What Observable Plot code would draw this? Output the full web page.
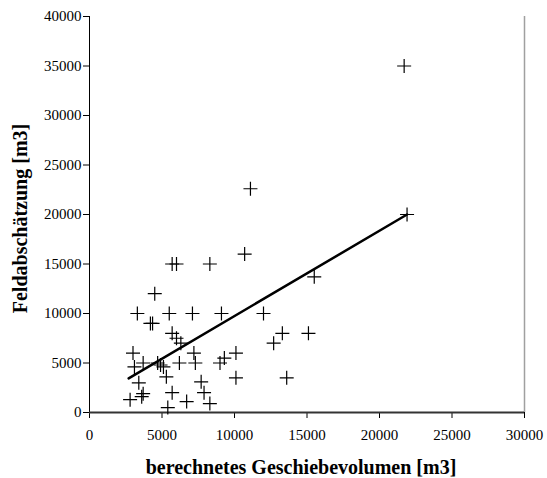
<!DOCTYPE html>
<html>
<head>
<meta charset="utf-8">
<script src="https://cdn.jsdelivr.net/npm/d3@7"></script>
<script src="https://cdn.jsdelivr.net/npm/@observablehq/plot@0.6"></script>
<style>
  body { margin: 0; background: #fff; }
  #chart svg, #chart svg text { font-family: "Liberation Serif", "Times New Roman", serif !important; }
</style>
</head>
<body>
<div id="chart"></div>
<script>
// berechnetes Geschiebevolumen [m3]
const volX = [21700, 21900, 11100, 10700, 15500, 5700, 6000, 8300, 4500, 3300, 5500, 7100, 9100, 12000,
  4200, 4350, 5700, 6000, 13300, 15100, 12700, 6300, 3000, 7200, 10100, 9300, 9000, 3700, 4700, 4900,
  6200, 7300, 3100, 5100, 5300, 10100, 13600, 3400, 7700, 5700, 7900, 3700, 3600, 2800, 6700, 8300, 5400];
// Feldabschätzung [m3]
const feldY = [35000, 20000, 22600, 16000, 13700, 15000, 15000, 15000, 12000, 10000, 10000, 10000, 10000, 10000,
  9000, 9000, 8000, 7500, 8000, 8000, 7000, 7000, 6000, 6000, 6000, 5500, 5000, 5000, 5000, 4800,
  5000, 5000, 4600, 4600, 3600, 3500, 3500, 3000, 3100, 2000, 2000, 1900, 1600, 1300, 1100, 900, 500];
// Trendlinie
const trendX = [2700, 21900];
const trendY = [3450, 20000];

const xTicks = [0, 5000, 10000, 15000, 20000, 25000, 30000];
const yTicks = [0, 5000, 10000, 15000, 20000, 25000, 30000, 35000, 40000];
const xTitle = "berechnetes Geschiebevolumen [m3]";
const yTitle = "Feldabschätzung [m3]";

const points = volX.map((x, i) => ({x, y: feldY[i]}));
const trend = trendX.map((x, i) => ({x, y: trendY[i]}));

const plusSymbol = {
  draw(context, size) {
    const r = Math.sqrt(size / Math.PI);
    context.moveTo(-r, 0); context.lineTo(r, 0);
    context.moveTo(0, -r); context.lineTo(0, r);
  }
};

const chart = Plot.plot({
  width: 547,
  height: 478,
  marginLeft: 89,
  marginRight: 23,
  marginTop: 16,
  marginBottom: 66,
  style: {fontSize: "15px", fontFamily: "'Liberation Serif', 'Times New Roman', serif", color: "#000", background: "#fff"},
  x: {domain: [0, 30000]},
  y: {domain: [0, 40000]},
  marks: [
    Plot.ruleX([30000], {stroke: "#a0a0a0", strokeWidth: 1.5}),
    Plot.axisY({ticks: yTicks, tickSize: 6, tickPadding: 2, tickFormat: d => String(d), label: null}),
    Plot.axisX({ticks: xTicks, tickSize: 6, tickPadding: 11, tickFormat: d => String(d), label: null}),
    Plot.ruleX([0], {stroke: "#000", strokeWidth: 1}),
    Plot.ruleY([0], {stroke: "#333", strokeWidth: 2}),
    Plot.dot(points, {x: "x", y: "y", symbol: plusSymbol, r: 7, stroke: "#000", strokeWidth: 1.2, fill: "none"}),
    Plot.line(trend, {x: "x", y: "y", stroke: "#000", strokeWidth: 2.5}),
    Plot.text([xTitle], {frameAnchor: "bottom", dx: -6, dy: 55, text: d => d, fontWeight: "bold", fontSize: 20, lineAnchor: "middle", textAnchor: "middle"}),
    Plot.text([yTitle], {frameAnchor: "left", dx: -69, dy: 4, rotate: -90, text: d => d, fontWeight: "bold", fontSize: 20, lineAnchor: "middle", textAnchor: "middle"})
  ]
});
document.getElementById("chart").appendChild(chart);
</script>
</body>
</html>
